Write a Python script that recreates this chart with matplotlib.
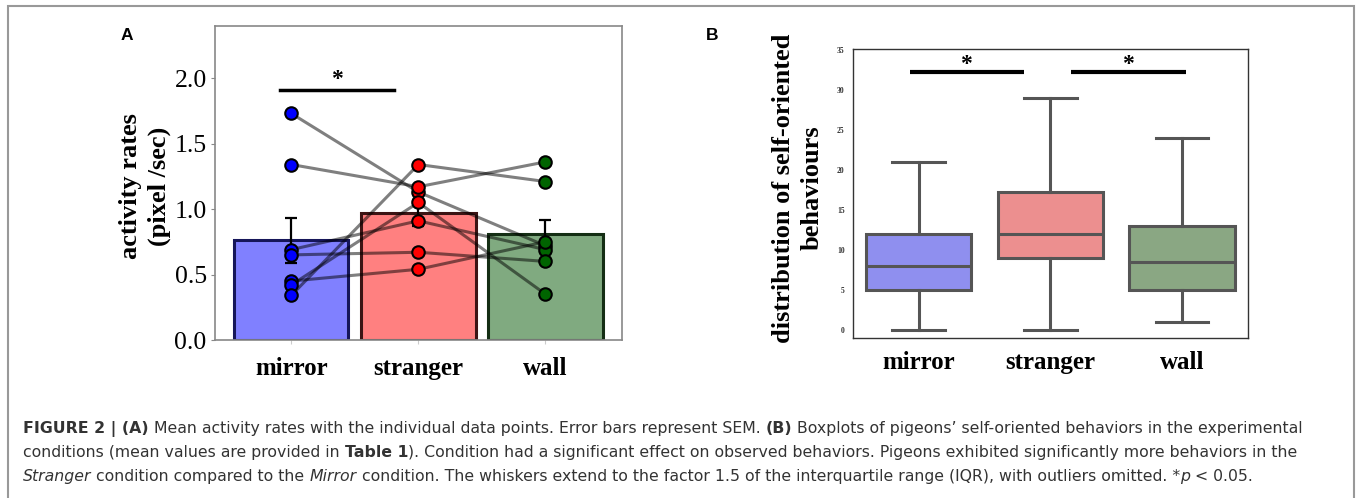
import matplotlib
matplotlib.use('Agg')
import matplotlib.pyplot as plt
from matplotlib.patches import Rectangle

# ---- data ----
conditions = ['mirror', 'stranger', 'wall']

# panel A: mean activity rates (pixel/sec) with SEM
activity_mean = [0.76, 0.97, 0.81]
activity_sem = [0.175, 0.10, 0.11]
# individual pigeons (same index = same bird)
mirror_pts = [1.73, 1.34, 0.69, 0.65, 0.45, 0.42, 0.34]
stranger_pts = [1.13, 1.17, 0.91, 0.67, 0.54, 1.05, 1.34]
wall_pts = [0.72, 1.36, 0.69, 0.60, 0.75, 0.35, 1.21]

# panel B: boxplot stats of self-oriented behaviours
box_whislo = [0, 0, 1]
box_q1 = [5, 9, 5]
box_med = [8, 12, 8.5]
box_q3 = [12, 17.3, 13]
box_whishi = [21, 29, 24]

W, H = 1357, 498
fig = plt.figure(figsize=(W / 100, H / 100), dpi=100)

SERIF = 'Liberation Serif'
SANS = 'Liberation Sans'
CAPFONT = 'DejaVu Sans'

bar_fill = ['#8080ff', '#ff8080', '#80aa80']
bar_edge = ['#16165a', '#3c1414', '#142e14']
pt_col = ['#0000ff', '#ff0000', '#006400']
box_fill = ['#8f8fef', '#ec8f8f', '#8aa783']


def fx(px):
    return px / W


def fy(py):
    return 1 - py / H


# ---- panel A ----
axA = fig.add_axes([fx(215), fy(340), fx(621.7) - fx(215), fy(25.7) - fy(340)])
x = list(range(len(conditions)))
axA.bar(x, activity_mean, width=0.9, color=bar_fill, edgecolor=bar_edge,
        linewidth=2.2, zorder=1)
axA.errorbar(x, activity_mean, yerr=activity_sem, fmt='none', ecolor='black',
             elinewidth=1.6, capsize=4, capthick=1.6, zorder=2)
for a, b, c in zip(mirror_pts, stranger_pts, wall_pts):
    axA.plot(x, [a, b, c], color='black', alpha=0.5, lw=2.2, zorder=3)
for i, pts in enumerate([mirror_pts, stranger_pts, wall_pts]):
    axA.plot([i] * len(pts), pts, 'o', ms=9, mfc=pt_col[i], mec='black',
             mew=1.5, zorder=4, ls='none')

axA.plot([-0.09, 0.81], [1.91, 1.91], color='black', lw=2.5, zorder=5)
axA.text(0.36, 1.91, '*', ha='center', va='bottom', fontsize=17,
         family=SERIF, fontweight='bold')

axA.set_xlim(-0.6, 2.6)
axA.set_ylim(0, 2.4)
axA.set_yticks([0, 0.5, 1.0, 1.5, 2.0])
axA.set_yticklabels(['0.0', '0.5', '1.0', '1.5', '2.0'])
axA.set_xticks(x)
axA.set_xticklabels(conditions)
for s in axA.spines.values():
    s.set_color('#888888')
    s.set_linewidth(1.2)
axA.tick_params(axis='y', length=3, color='#888888', pad=3, labelsize=18.5)
axA.tick_params(axis='x', length=3, color='#cccccc', pad=9, labelsize=18)
for lab in axA.get_yticklabels():
    lab.set_family(SERIF)
for lab in axA.get_xticklabels():
    lab.set_family(SERIF)
    lab.set_fontweight('bold')

fig.text(fx(145), fy(186.5), 'activity rates\n(pixel /sec)', rotation=90,
         ha='center', va='center', multialignment='center', fontsize=19,
         family=SERIF, fontweight='bold', linespacing=1.3)
fig.text(fx(126.5), fy(36), 'A', ha='center', va='center', fontsize=12.5,
         family=SANS, fontweight='bold')

# ---- panel B ----
axB = fig.add_axes([fx(853), fy(338.3), fx(1247.7) - fx(853), fy(49.3) - fy(338.3)])
stats = []
for i, lab in enumerate(conditions):
    stats.append(dict(label=lab, whislo=box_whislo[i], q1=box_q1[i],
                      med=box_med[i], q3=box_q3[i], whishi=box_whishi[i]))
gray = '#555555'
bp = axB.bxp(stats, positions=x, widths=0.8, showfliers=False,
             patch_artist=True,
             boxprops=dict(edgecolor=gray, linewidth=2.2),
             medianprops=dict(color=gray, linewidth=2.2),
             whiskerprops=dict(color=gray, linewidth=2.2),
             capprops=dict(color=gray, linewidth=2.2),
             capwidths=0.4)
for patch, c in zip(bp['boxes'], box_fill):
    patch.set_facecolor(c)

axB.plot([-0.07, 0.80], [32.2, 32.2], color='black', lw=3, solid_capstyle='butt')
axB.plot([1.16, 2.03], [32.2, 32.2], color='black', lw=3, solid_capstyle='butt')
axB.text(0.36, 31.9, '*', ha='center', va='bottom', fontsize=17,
         family=SERIF, fontweight='bold')
axB.text(1.59, 31.9, '*', ha='center', va='bottom', fontsize=17,
         family=SERIF, fontweight='bold')

axB.set_xlim(-0.5, 2.5)
axB.set_ylim(-1, 35.05)
axB.set_yticks([0, 5, 10, 15, 20, 25, 30, 35])
axB.set_xticks(x)
axB.set_xticklabels(conditions)
for s in axB.spines.values():
    s.set_color('#333333')
    s.set_linewidth(1.0)
axB.tick_params(axis='y', length=0, pad=6, labelsize=5.5)
axB.tick_params(axis='x', length=0, pad=9, labelsize=18)
for lab in axB.get_yticklabels():
    lab.set_family(SERIF)
    lab.set_fontweight('bold')
    lab.set_color('#333333')
for lab in axB.get_xticklabels():
    lab.set_family(SERIF)
    lab.set_fontweight('bold')

fig.text(fx(798), fy(188), 'distribution of self-oriented\nbehaviours',
         rotation=90, ha='center', va='center', multialignment='center',
         fontsize=19, family=SERIF, fontweight='bold', linespacing=1.3)
fig.text(fx(712), fy(35), 'B', ha='center', va='center', fontsize=12.5,
         family=SANS, fontweight='bold')

# ---- caption ----
cap_lines = [
    [("FIGURE 2 | (A)", 'b'),
     (" Mean activity rates with the individual data points. Error bars represent SEM. ", 'n'),
     ("(B)", 'b'),
     (" Boxplots of pigeons\u2019 self-oriented behaviors in the experimental", 'n')],
    [("conditions (mean values are provided in ", 'n'), ("Table 1", 'b'),
     ("). Condition had a significant effect on observed behaviors. Pigeons exhibited significantly more behaviors in the", 'n')],
    [("Stranger", 'i'), (" condition compared to the ", 'n'), ("Mirror", 'i'),
     (" condition. The whiskers extend to the factor 1.5 of the interquartile range (IQR), with outliers omitted. *", 'n'),
     ("p", 'i'), (" < 0.05.", 'n')],
]
cap_base = [433, 457, 481]
cap_left, cap_right = 23, 1300
renderer = fig.canvas.get_renderer()


def width_of(s, size, weight='normal', style='normal'):
    t = fig.text(0, 0, s, fontsize=size, family=CAPFONT, fontweight=weight,
                 fontstyle=style)
    w = t.get_window_extent(renderer).width
    t.remove()
    return w


def line_width(line, size):
    sp = width_of('x x', size) - width_of('xx', size)
    total = 0
    for txt, st in line:
        weight = 'bold' if st == 'b' else 'normal'
        style = 'italic' if st == 'i' else 'normal'
        lead = len(txt) - len(txt.lstrip(' '))
        trail = len(txt) - len(txt.rstrip(' '))
        total += (lead + trail) * sp + width_of(txt.strip(' '), size, weight, style)
    return total


# fit the first caption line to the width it has in the original figure
cap_size = 10.0 * (cap_right - cap_left) / line_width(cap_lines[0], 10.0)
space_w = width_of('x x', cap_size) - width_of('xx', cap_size)
for line, yb in zip(cap_lines, cap_base):
    xp = cap_left
    for txt, st in line:
        weight = 'bold' if st == 'b' else 'normal'
        style = 'italic' if st == 'i' else 'normal'
        lead = len(txt) - len(txt.lstrip(' '))
        trail = len(txt) - len(txt.rstrip(' '))
        xp += lead * space_w
        t = fig.text(fx(xp), fy(yb), txt.strip(' '), fontsize=cap_size,
                     family=CAPFONT, fontweight=weight, fontstyle=style,
                     color='#333333', ha='left', va='baseline')
        xp += t.get_window_extent(renderer).width + trail * space_w

# outer frame
fig.patches.append(Rectangle((fx(8), -0.05), fx(1354) - fx(8), fy(6) + 0.05,
                             transform=fig.transFigure, fill=False,
                             edgecolor='#999999', linewidth=1.5))

fig.savefig('out.png', dpi=100)
